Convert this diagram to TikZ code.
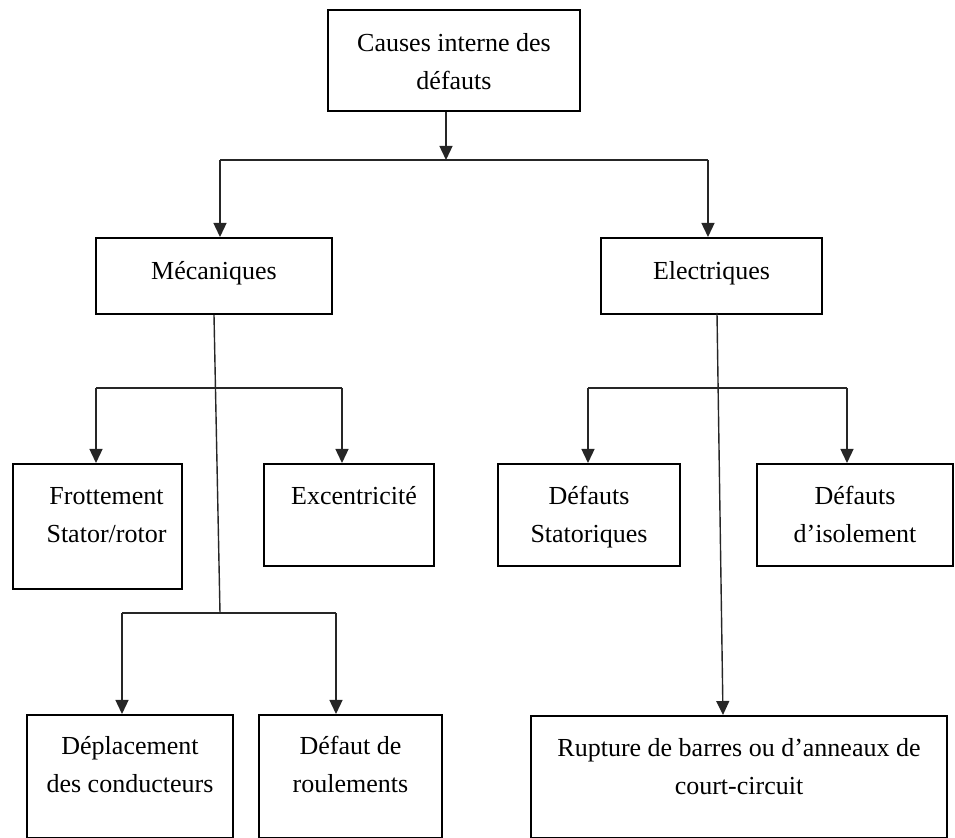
\documentclass[tikz,border=0pt]{standalone}
\usepackage{fontspec}
\setmainfont{Liberation Serif}
\usetikzlibrary{arrows.meta,positioning,calc}

\begin{document}
\begin{tikzpicture}[
  x=0.5pt, y=-0.5pt, >={Triangle[width=6.5pt,length=7pt]},
  boite/.style={draw, line width=1pt, anchor=north west, inner sep=0pt},
  texte/.style={align=center, inner sep=0pt, anchor=base, font=\fontsize{13}{19}\selectfont},
  trait/.style={line width=0.7pt, draw=black!85},
  fleche/.style={trait, ->}
]
\useasboundingbox (0,0) rectangle (955,838);
% boites
\node[boite, minimum width=126pt, minimum height=50.5pt] (cause) at (327,9) {};
\node[boite, minimum width=118pt, minimum height=38pt] (meca) at (95,237) {};
\node[boite, minimum width=110.5pt, minimum height=38pt] (elec) at (600,237) {};
\node[boite, minimum width=84.5pt, minimum height=62.5pt] (frot) at (12,463) {};
\node[boite, minimum width=85pt, minimum height=51pt] (exc) at (263,463) {};
\node[boite, minimum width=91pt, minimum height=51pt] (stat) at (497,463) {};
\node[boite, minimum width=98pt, minimum height=51pt] (isol) at (756,463) {};
\node[boite, minimum width=103pt, minimum height=61.5pt] (depl) at (26,714) {};
\node[boite, minimum width=91.5pt, minimum height=61.5pt] (roul) at (258,714) {};
\node[boite, minimum width=208pt, minimum height=61pt] (rupt) at (530,715) {};
% textes (base = derniere ligne)
\node[texte] (tcause) at ($(cause.north)+(0,81)$) {Causes interne des\\défauts};
\node[texte] (tmeca) at ($(meca.north)+(0,43)$) {Mécaniques};
\node[texte] (telec) at ($(elec.north)+(0,43)$) {Electriques};
\node[texte] (tfrot) at ($(frot.north)+(9,80)$) {Frottement\\Stator/rotor};
\node[texte] (texc) at ($(exc.north)+(5,42)$) {Excentricité};
\node[texte] (tstat) at ($(stat.north)+(0,80)$) {Défauts\\Statoriques};
\node[texte] (tisol) at ($(isol.north)+(0,80)$) {Défauts\\d’isolement};
\node[texte] (tdepl) at ($(depl.north)+(0,79)$) {Déplacement\\des conducteurs};
\node[texte] (troul) at ($(roul.north)+(0,79)$) {Défaut de\\roulements};
\node[texte] (trupt) at ($(rupt.north)+(0,80)$) {Rupture de barres ou d’anneaux de\\court-circuit};
% jonctions
\coordinate (c0) at (446,160);
\coordinate (c1) at (220,160);
\coordinate (c2) at (708,160);
\coordinate (m1) at (96,388);
\coordinate (m2) at (342,388);
\coordinate (m3) at (220,613);
\coordinate (m4) at (122,613);
\coordinate (m5) at (336,613);
\coordinate (e0) at (717,313);
\coordinate (e1) at (588,388);
\coordinate (e2) at (847,388);
\coordinate (e3) at (723,715);
% liaisons
\draw[fleche] (cause.south -| c0) -- (c0);
\draw[trait] (c1) -- (c2);
\draw[fleche] (c1) -- (c1 |- meca.north);
\draw[fleche] (c2) -- (c2 |- elec.north);
\draw[trait] (meca.south) -- (m3);
\draw[trait] (m1) -- (m2);
\draw[fleche] (m1) -- (m1 |- frot.north);
\draw[fleche] (m2) -- (m2 |- exc.north);
\draw[trait] (m4) -- (m5);
\draw[fleche] (m4) -- (m4 |- depl.north);
\draw[fleche] (m5) -- (m5 |- roul.north);
\draw[fleche] (e0) -- (e3);
\draw[trait] (e1) -- (e2);
\draw[fleche] (e1) -- (e1 |- stat.north);
\draw[fleche] (e2) -- (e2 |- isol.north);
\end{tikzpicture}
\end{document}
